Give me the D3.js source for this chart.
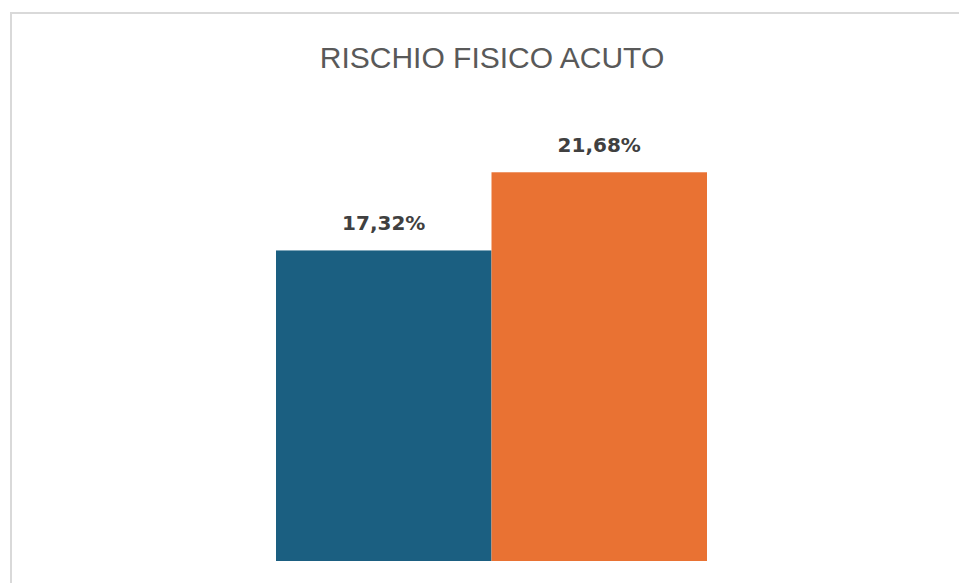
<!DOCTYPE html>
<html>
<head>
<meta charset="utf-8">
<script src="https://cdn.jsdelivr.net/npm/d3@7/dist/d3.min.js"></script>
<style>
  html, body { margin: 0; padding: 0; background: #fff; }
  svg { display: block; }
</style>
</head>
<body>
<svg id="chart" width="959" height="583"></svg>
<script>
// Chart data
const title = "RISCHIO FISICO ACUTO";
const categories = ["A", "B"];
const values = [17.32, 21.68];
const colors = ["#1b5f81", "#e97233"];

const fmt = v => d3.format(".2f")(v).replace(".", ",") + "%";

const W = 959, H = 583;
const svg = d3.select("#chart");

// Chart frame (light border)
svg.append("rect")
  .attr("x", 11).attr("y", 13)
  .attr("width", 1000).attr("height", 1000)
  .attr("fill", "#fff")
  .attr("stroke", "#d9d9d9")
  .attr("stroke-width", 2);

// Title
svg.append("text")
  .attr("x", 492).attr("y", 68)
  .attr("text-anchor", "middle")
  .attr("font-family", "'Liberation Sans', Arial, sans-serif")
  .attr("font-size", 30)
  .attr("fill", "#595959")
  .text(title);

// Scales
const x = d3.scaleBand()
  .domain(categories)
  .range([276, 707])
  .paddingInner(0)
  .paddingOuter(0);

const y = d3.scaleLinear()
  .domain([0, 25])
  .range([561, 561 - 25 * 17.93]);

// Bars
svg.selectAll("rect.bar")
  .data(values)
  .join("rect")
  .attr("class", "bar")
  .attr("x", (d, i) => x(categories[i]))
  .attr("width", x.bandwidth())
  .attr("y", d => y(d))
  .attr("height", d => y(0) - y(d))
  .attr("fill", (d, i) => colors[i]);

// Value labels
svg.selectAll("text.val")
  .data(values)
  .join("text")
  .attr("class", "val")
  .attr("x", (d, i) => x(categories[i]) + x.bandwidth() / 2)
  .attr("y", d => y(d) - 20)
  .attr("text-anchor", "middle")
  .attr("font-family", "'DejaVu Sans', sans-serif")
  .attr("font-weight", "bold")
  .attr("font-size", 20)
  .attr("fill", "#404040")
  .text(d => fmt(d));
</script>
</body>
</html>
